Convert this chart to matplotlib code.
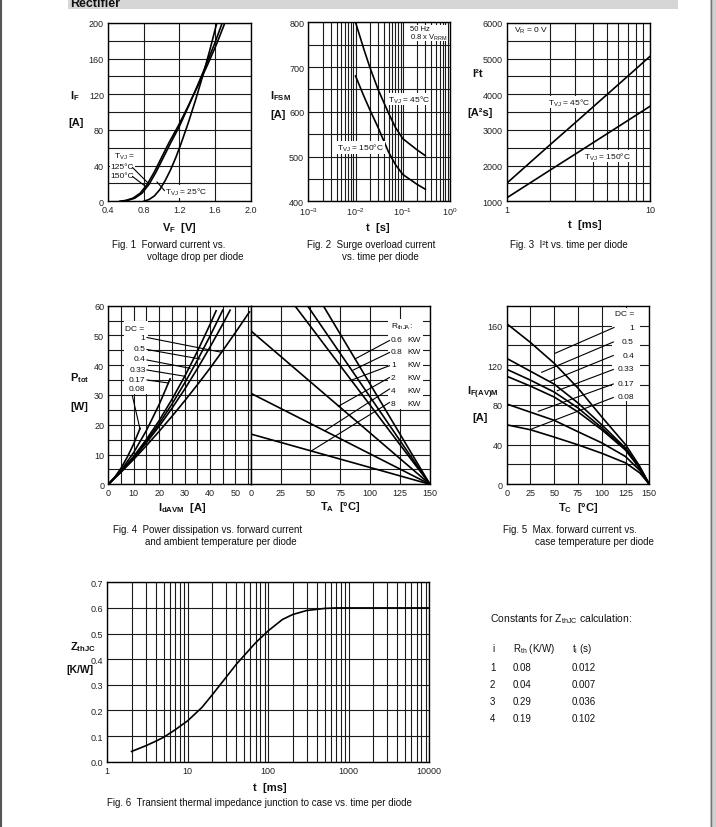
import numpy as np
import matplotlib
matplotlib.use('Agg')
import matplotlib.pyplot as plt
from matplotlib.ticker import MultipleLocator, LogLocator, NullFormatter, FixedLocator, FixedFormatter, FormatStrFormatter
from matplotlib.patches import Rectangle
from matplotlib.lines import Line2D

plt.rcParams['font.family'] = ['Liberation Sans', 'DejaVu Sans']
plt.rcParams['mathtext.fontset'] = 'custom'
plt.rcParams['mathtext.rm'] = 'Liberation Sans'
plt.rcParams['mathtext.it'] = 'Liberation Sans:italic'
plt.rcParams['mathtext.bf'] = 'Liberation Sans:bold'
plt.rcParams['mathtext.default'] = 'regular'

# ---------------- data ----------------
# Fig 1: forward current vs forward voltage
vf_25 = [0.80, 0.86, 0.92, 0.98, 1.04, 1.10, 1.16, 1.22, 1.30, 1.38, 1.46, 1.54, 1.62]
if_25 = [0, 2, 6, 13, 23, 35, 49, 65, 88, 113, 140, 169, 200]
vf_125 = [0.55, 0.62, 0.70, 0.78, 0.86, 0.94, 1.02, 1.10, 1.20, 1.30, 1.40, 1.50, 1.60, 1.68]
if_125 = [0, 1, 3.5, 9, 19, 33, 49, 65, 84, 106, 129, 153, 178, 200]
vf_150 = [0.53, 0.60, 0.68, 0.76, 0.84, 0.92, 1.00, 1.08, 1.19, 1.30, 1.41, 1.52, 1.62, 1.71]
if_150 = [0, 1, 3.5, 9, 19, 33, 49, 65, 85, 107, 130, 154, 177, 200]

# Fig 2: surge overload current vs time
t_surge = [0.01, 0.015, 0.02, 0.03, 0.05, 0.07, 0.1, 0.2, 0.3]
ifsm_45 = [800, 740, 700, 650, 597, 565, 540, 515, 502]
ifsm_150 = [680, 635, 605, 565, 510, 482, 460, 438, 427]

# Fig 3: I2t vs time
t_i2t = [1, 2, 3, 5, 7, 10]
i2t_45 = [1505, 2580, 3200, 3990, 4510, 5065]
i2t_150 = [1095, 1870, 2320, 2890, 3265, 3665]

# Fig 4 (left): power dissipation vs average forward current
dc_labels = ['1', '0.5', '0.4', '0.33', '0.17', '0.08']
idavm_dc1 = [0, 5, 10, 15, 20, 25, 30, 35, 40, 45, 50, 55.5]
ptot_dc1 = [0, 4.1, 8.4, 13.0, 17.8, 22.8, 28.0, 33.4, 39.0, 44.9, 51.0, 57.9]
idavm_dc05 = [0, 5, 10, 15, 20, 25, 30, 35, 40, 45, 47.9]
ptot_dc05 = [0, 4.2, 8.9, 14.0, 19.5, 25.5, 31.9, 38.8, 46.1, 53.8, 58.5]
idavm_dc04 = [0, 5, 10, 15, 20, 25, 30, 35, 40, 45]
ptot_dc04 = [0, 4.3, 9.1, 14.5, 20.4, 26.9, 34.0, 41.6, 49.8, 58.5]
idavm_dc033 = [0, 5, 10, 15, 20, 25, 30, 35, 40, 42.4]
ptot_dc033 = [0, 4.3, 9.4, 15.1, 21.4, 28.5, 36.2, 44.6, 53.7, 58.3]
idavm_dc017 = [0, 5, 10, 15, 20, 24.3]
ptot_dc017 = [0, 4.7, 10.7, 18.1, 26.8, 35.4]
idavm_dc008 = [0, 2.5, 5, 7.5, 10, 12.5]
ptot_dc008 = [0, 2.35, 5.4, 9.2, 13.6, 18.8]

# Fig 4 (right): power vs ambient temperature for R_thJA
rth_labels = ['0.6', '0.8', '1', '2', '4', '8']
p_at_ta0 = [100.8, 87.8, 79.6, 51.6, 30.6, 16.9]
ta_end = 150

# Fig 5: max forward current vs case temperature
tc = [0, 25, 50, 75, 100, 125, 140, 150]
ifavm_dc1 = [162, 143, 122, 97, 68, 40, 18, 0]
ifavm_dc05 = [127, 114, 101, 82, 60, 36.5, 17, 0]
ifavm_dc04 = [116, 105, 93, 77, 57, 35.5, 16.5, 0]
ifavm_dc033 = [109, 99, 88, 73, 55, 34.5, 16, 0]
ifavm_dc017 = [81, 72.7, 64.5, 53, 41.8, 28, 14, 0]
ifavm_dc008 = [60, 55, 47.6, 39.8, 31.3, 21.6, 11.5, 0]

# Fig 6: transient thermal impedance
t_z = [2, 3, 4, 5, 7, 10, 15, 20, 30, 40, 50, 70, 100, 150, 200, 300, 500, 700, 1000, 2000, 10000]
z_thjc = [0.040, 0.062, 0.080, 0.095, 0.125, 0.160, 0.212, 0.260, 0.330, 0.380, 0.414, 0.465,
          0.511, 0.555, 0.574, 0.590, 0.598, 0.600, 0.600, 0.600, 0.600]

# Table
table_i = ['1', '2', '3', '4']
table_rth = ['0.08', '0.04', '0.29', '0.19']
table_ti = ['0.012', '0.007', '0.036', '0.102']

# ---------------- helpers ----------------
W, H = 716, 828
fig = plt.figure(figsize=(W / 100, H / 100), dpi=100)
fig.patch.set_facecolor('white')

def axpx(l, t, r, b):
    return fig.add_axes([l / W, 1 - b / H, (r - l) / W, (b - t) / H])

def txt(x, y, s, **kw):
    kw.setdefault('fontsize', 7)
    kw.setdefault('color', '#111111')
    kw.setdefault('va', 'center')
    return fig.text(x / W, 1 - y / H, s, **kw)

def seg(x1, y1, x2, y2, lw=0.8):
    fig.add_artist(Line2D([x1 / W, x2 / W], [1 - y1 / H, 1 - y2 / H], color='k', lw=lw, zorder=5))

def whitebox(ax, l, t, r, b):
    ax.add_patch(Rectangle((l / W, 1 - b / H), (r - l) / W, (b - t) / H, transform=fig.transFigure,
                           facecolor='white', edgecolor='none', zorder=1.5))

def style(ax):
    ax.set_axisbelow(True)
    for s in ax.spines.values():
        s.set_linewidth(1.0)
        s.set_color('k')
    ax.tick_params(which='both', length=0, labelsize=6.5, labelcolor='#222222', pad=3)
    ax.grid(True, which='both', color='#1a1a1a', lw=0.8)

LW = 1.2
BOX = dict(facecolor='white', edgecolor='none', pad=0.6)

# ---------------- page decoration ----------------
fig.add_artist(Rectangle((68 / W, 1 - 9.5 / H), (678 - 68) / W, 9.5 / H, transform=fig.transFigure,
                         facecolor='#d6d6d6', edgecolor='none'))
txt(70, 4, 'Rectifier', fontsize=9, fontweight='bold', va='center')
fig.add_artist(Line2D([1 / W, 1 / W], [0, 1], color='#555555', lw=1.5))
fig.add_artist(Rectangle((710 / W, 0), 6 / W, 1, transform=fig.transFigure, facecolor='#cfcfcf', edgecolor='none'))
fig.add_artist(Line2D([710.5 / W, 710.5 / W], [0, 1], color='#777777', lw=1))

# ---------------- Fig 1 ----------------
ax1 = axpx(108, 24, 250.7, 202.3)
style(ax1)
ax1.set_xlim(0.4, 2.0)
ax1.set_ylim(0, 200)
ax1.xaxis.set_major_locator(FixedLocator([0.4, 0.8, 1.2, 1.6, 2.0]))
ax1.xaxis.set_major_formatter(FormatStrFormatter('%.1f'))
ax1.yaxis.set_major_locator(MultipleLocator(40))
ax1.yaxis.set_minor_locator(MultipleLocator(20))
ax1.plot(vf_25, if_25, color='k', lw=LW, zorder=3)
ax1.plot(vf_125, if_125, color='k', lw=LW, zorder=3)
ax1.plot(vf_150, if_150, color='k', lw=LW, zorder=3)
whitebox(ax1, 110, 151, 135, 182)
txt(113.5, 157, r'T$_{VJ}$ =', fontsize=6)
txt(110.5, 167.5, '125°C', fontsize=6)
txt(110.5, 177, '150°C', fontsize=6)
seg(132.5, 168.5, 148.5, 184.5)
seg(132.5, 177.5, 145, 187)
txt(165, 192.3, r'T$_{VJ}$ = 25°C', fontsize=6, bbox=BOX)
seg(164.5, 191.5, 157, 183)
txt(70, 96, r'I$_\mathbf{F}$', fontsize=8, fontweight='bold')
txt(68, 123, '[A]', fontsize=8, fontweight='bold')
txt(179, 228, r'V$_\mathbf{F}$  [V]', fontsize=8, fontweight='bold', ha='center')
txt(112, 245, 'Fig. 1  Forward current vs.')
txt(147, 257, 'voltage drop per diode')

# ---------------- Fig 2 ----------------
ax2 = axpx(308.3, 23.3, 450, 202.3)
style(ax2)
ax2.set_xscale('log')
ax2.set_xlim(1e-3, 1)
ax2.set_ylim(400, 800)
ax2.xaxis.set_major_locator(FixedLocator([1e-3, 1e-2, 1e-1, 1e0]))
ax2.xaxis.set_major_formatter(FixedFormatter([r'10$^{-3}$', r'10$^{-2}$', r'10$^{-1}$', r'10$^{0}$']))
ax2.xaxis.set_minor_locator(LogLocator(base=10, subs=range(2, 10)))
ax2.xaxis.set_minor_formatter(NullFormatter())
ax2.yaxis.set_major_locator(MultipleLocator(100))
ax2.yaxis.set_minor_locator(MultipleLocator(50))
ax2.plot(t_surge, ifsm_45, color='k', lw=LW, zorder=3)
ax2.plot(t_surge, ifsm_150, color='k', lw=LW, zorder=3)
whitebox(ax2, 407, 25.5, 448, 42)
txt(410, 29.5, '50 Hz', fontsize=5.5)
txt(410, 37.5, r'0.8 x V$_{RRM}$', fontsize=5.5)
txt(387.5, 100, r'T$_{VJ}$ = 45°C', fontsize=6, bbox=BOX)
txt(337, 148.5, r'T$_{VJ}$ = 150°C', fontsize=6, bbox=BOX)
txt(270, 96.5, r'I$_\mathbf{FSM}$', fontsize=8, fontweight='bold')
txt(270, 115, '[A]', fontsize=8, fontweight='bold')
txt(378, 228, 't  [s]', fontsize=8, fontweight='bold', ha='center')
txt(306.7, 245, 'Fig. 2  Surge overload current')
txt(341.7, 257, 'vs. time per diode')

# ---------------- Fig 3 ----------------
ax3 = axpx(506.7, 24, 650, 202.3)
style(ax3)
ax3.set_xscale('log')
ax3.set_xlim(1, 10)
ax3.set_ylim(1000, 6000)
ax3.xaxis.set_major_locator(FixedLocator([1, 10]))
ax3.xaxis.set_major_formatter(FixedFormatter(['1', '10']))
ax3.xaxis.set_minor_locator(LogLocator(base=10, subs=range(2, 10)))
ax3.xaxis.set_minor_formatter(NullFormatter())
ax3.yaxis.set_major_locator(MultipleLocator(1000))
ax3.yaxis.set_minor_locator(MultipleLocator(500))
ax3.plot(t_i2t, i2t_45, color='k', lw=LW, zorder=3)
ax3.plot(t_i2t, i2t_150, color='k', lw=LW, zorder=3)
whitebox(ax3, 508, 25.5, 541, 39)
txt(514, 31, r'V$_{R}$ = 0 V', fontsize=6)
txt(548.5, 103, r'T$_{VJ}$ = 45°C', fontsize=6, bbox=BOX)
txt(583.5, 157, r'T$_{VJ}$ = 150°C', fontsize=6, bbox=BOX)
txt(472, 74, 'I²t', fontsize=8, fontweight='bold')
txt(467, 113, '[A²s]', fontsize=8, fontweight='bold')
txt(585, 225, 't  [ms]', fontsize=8, fontweight='bold', ha='center')
txt(510, 245, 'Fig. 3  I²t vs. time per diode')

# ---------------- Fig 4 left ----------------
ax4a = axpx(108.3, 306.7, 250.7, 485.3)
style(ax4a)
ax4a.set_xlim(0, 56)
ax4a.set_ylim(0, 60)
ax4a.xaxis.set_major_locator(FixedLocator([0, 10, 20, 30, 40, 50]))
ax4a.xaxis.set_minor_locator(FixedLocator([5, 15, 25, 35, 45, 55]))
ax4a.yaxis.set_major_locator(MultipleLocator(10))
ax4a.yaxis.set_minor_locator(MultipleLocator(5))
for xs, ys in [(idavm_dc1, ptot_dc1), (idavm_dc05, ptot_dc05), (idavm_dc04, ptot_dc04),
               (idavm_dc033, ptot_dc033), (idavm_dc017, ptot_dc017), (idavm_dc008, ptot_dc008)]:
    ax4a.plot(xs, ys, color='k', lw=LW, zorder=3)
whitebox(ax4a, 124, 322, 147.5, 395)
txt(125, 329.3, 'DC =', fontsize=6)
dc_y = [338.3, 349.5, 359.5, 370.5, 380, 390]
for lab, yy in zip(dc_labels, dc_y):
    txt(145.5, yy, lab, fontsize=6, ha='right')
seg(147, 338.5, 221.7, 353.3)
seg(147, 350.5, 200, 360)
seg(147, 361, 190, 369.3)
seg(147, 371, 185, 377.3)
seg(147, 381, 168.5, 384)
seg(132.3, 396.5, 140, 430)
txt(70, 378, r'P$_\mathbf{tot}$', fontsize=8, fontweight='bold')
txt(70, 407, '[W]', fontsize=8, fontweight='bold')
txt(182, 508.5, r'I$_\mathbf{dAVM}$  [A]', fontsize=8, fontweight='bold', ha='center')
txt(113, 530, 'Fig. 4  Power dissipation vs. forward current')
txt(145, 542, 'and ambient temperature per diode')

# ---------------- Fig 4 right ----------------
ax4b = axpx(250.7, 306.7, 430, 485.3)
style(ax4b)
ax4b.set_xlim(0, 150)
ax4b.set_ylim(0, 60)
ax4b.xaxis.set_major_locator(MultipleLocator(25))
ax4b.yaxis.set_major_locator(MultipleLocator(5))
ax4b.yaxis.set_major_formatter(NullFormatter())
for p0 in p_at_ta0:
    ax4b.plot([0, ta_end], [p0, 0], color='k', lw=LW, zorder=3)
whitebox(ax4b, 388, 320, 423, 410)
txt(391, 327, r'R$_{thJA}$:', fontsize=6)
r_y = [340, 352.3, 365.7, 378.3, 391.7, 404.3]
for lab, yy in zip(rth_labels, r_y):
    txt(391, yy, lab, fontsize=6)
    txt(407, yy, 'KW', fontsize=6)
seg(389.5, 341.5, 355, 360)
seg(389.5, 353.5, 353.3, 371)
seg(389.5, 366.7, 350, 381.7)
seg(389.5, 378.5, 338.3, 407.3)
seg(389.5, 390, 325, 431.7)
seg(389.5, 403.5, 311.7, 451.7)
txt(340, 507, r'T$_\mathbf{A}$  [°C]', fontsize=8, fontweight='bold', ha='center')

# ---------------- Fig 5 ----------------
ax5 = axpx(506.7, 306.8, 649.3, 485.3)
style(ax5)
ax5.set_xlim(0, 150)
ax5.set_ylim(0, 180)
ax5.xaxis.set_major_locator(MultipleLocator(25))
ax5.yaxis.set_major_locator(FixedLocator([0, 40, 80, 120, 160]))
ax5.yaxis.set_minor_locator(FixedLocator([20, 60, 100, 140]))
for ys in [ifavm_dc1, ifavm_dc05, ifavm_dc04, ifavm_dc033, ifavm_dc017, ifavm_dc008]:
    ax5.plot(tc, ys, color='k', lw=LW, zorder=3)
whitebox(ax5, 612, 309, 640, 402)
txt(615, 315, 'DC =', fontsize=6)
dc5_y = [328.3, 342.7, 356.7, 370, 384.3, 397.7]
for lab, yy in zip(dc_labels, dc5_y):
    txt(634, yy, lab, fontsize=6, ha='right')
seg(614, 328.5, 555, 354.3)
seg(613.3, 343, 541.7, 373.3)
seg(613.3, 356.5, 550, 382.3)
seg(613.3, 370.5, 557.3, 391.7)
seg(613.3, 385, 538.3, 412.3)
seg(613.3, 398.5, 531.7, 430)
txt(467, 393, r'I$_\mathbf{F(AV)M}$', fontsize=8, fontweight='bold')
txt(472, 418, '[A]', fontsize=8, fontweight='bold')
txt(578, 508.5, r'T$_\mathbf{C}$  [°C]', fontsize=8, fontweight='bold', ha='center')
txt(503, 530, 'Fig. 5  Max. forward current vs.')
txt(535, 542, 'case temperature per diode')

# ---------------- Fig 6 ----------------
ax6 = axpx(107.3, 583.3, 429.3, 762.7)
style(ax6)
ax6.set_xscale('log')
ax6.set_xlim(1, 10000)
ax6.set_ylim(0, 0.7)
ax6.xaxis.set_major_locator(FixedLocator([1, 10, 100, 1000, 10000]))
ax6.xaxis.set_major_formatter(FixedFormatter(['1', '10', '100', '1000', '10000']))
ax6.xaxis.set_minor_locator(LogLocator(base=10, subs=range(2, 10)))
ax6.xaxis.set_minor_formatter(NullFormatter())
ax6.yaxis.set_major_locator(MultipleLocator(0.1))
ax6.yaxis.set_major_formatter(FormatStrFormatter('%.1f'))
ax6.plot(t_z, z_thjc, color='k', lw=LW, zorder=3)
txt(70, 647, r'Z$_\mathbf{thJC}$', fontsize=8, fontweight='bold')
txt(66, 670, '[K/W]', fontsize=7.5, fontweight='bold')
txt(270, 788, 't  [ms]', fontsize=8, fontweight='bold', ha='center')
txt(107, 803.3, 'Fig. 6  Transient thermal impedance junction to case vs. time per diode')

# ---------------- table ----------------
txt(490, 619, r'Constants for Z$_{thJC}$ calculation:', fontsize=7.5)
txt(492, 648.5, 'i', fontsize=7)
txt(513, 648.5, r'R$_{th}$ (K/W)', fontsize=7)
txt(572, 648.5, r't$_{i}$ (s)', fontsize=7)
row_y = [668, 685, 702, 719]
for a, b, c, yy in zip(table_i, table_rth, table_ti, row_y):
    txt(490, yy, a, fontsize=7)
    txt(513, yy, b, fontsize=7)
    txt(572, yy, c, fontsize=7)

fig.savefig('out.png', dpi=100, facecolor='white')
